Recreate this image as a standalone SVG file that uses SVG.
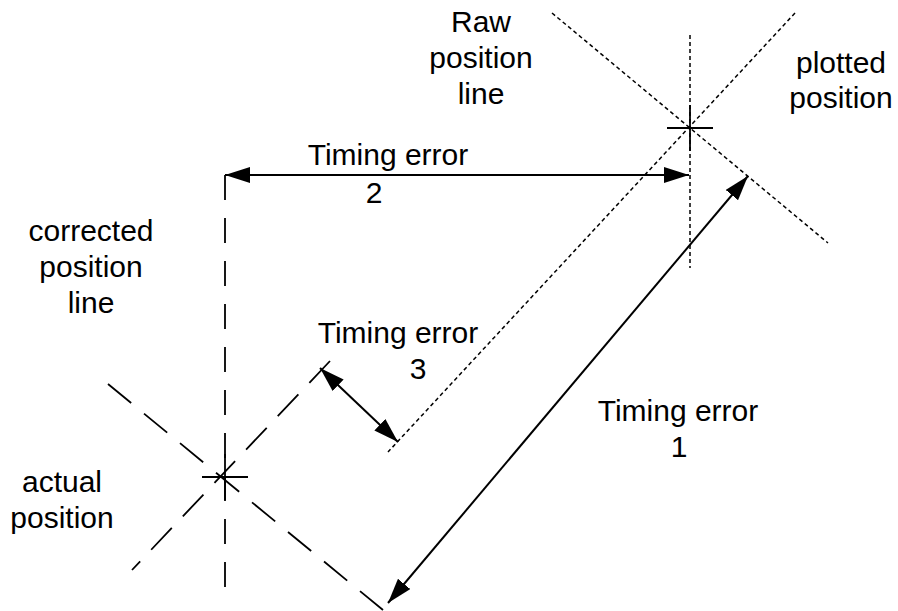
<svg xmlns="http://www.w3.org/2000/svg" width="898" height="611" viewBox="0 0 898 611">
<style>
  text { font-family: "Liberation Sans", Arial, sans-serif; font-size: 30px; fill: #000; text-anchor: middle; }
  .dot { stroke: #000; stroke-width: 1.5; stroke-dasharray: 4 3; fill: none; }
  .dash { stroke: #000; stroke-width: 1.8; stroke-dasharray: 30 16; fill: none; }
  .solid { stroke: #000; stroke-width: 1.8; fill: none; }
  .arrow { stroke: #000; stroke-width: 2; fill: none; marker-start: url(#ah); marker-end: url(#ah); }
</style>
<defs>
  <marker id="ah" viewBox="0 0 25 16" refX="25" refY="8" markerWidth="25" markerHeight="16" markerUnits="userSpaceOnUse" orient="auto-start-reverse">
    <path d="M0,0 L25,8 L0,16 z" fill="#000"/>
  </marker>
</defs>
<rect width="898" height="611" fill="#fff"/>

<g id="plotted-position">
  <line class="dot" x1="795" y1="13" x2="388" y2="452"/>
  <line class="dot" x1="552" y1="13" x2="828" y2="243"/>
  <line class="dot" x1="690" y1="35" x2="690" y2="268"/>
  <line class="solid" x1="667" y1="128" x2="713" y2="128"/>
  <line class="solid" x1="690" y1="105" x2="690" y2="151"/>
  <text x="841" y="73">plotted</text>
  <text x="841" y="108">position</text>
</g>

<g id="raw-position-line">
  <text x="481" y="32">Raw</text>
  <text x="481" y="68">position</text>
  <text x="481" y="104">line</text>
</g>

<g id="actual-position">
  <line class="dash" x1="330" y1="361" x2="132" y2="570"/>
  <line class="dash" style="stroke-dasharray:30 16.6" x1="108" y1="384" x2="383" y2="610"/>
  <line class="solid" x1="202" y1="477" x2="248" y2="477"/>
  <line class="solid" x1="225" y1="454" x2="225" y2="500"/>
  <text x="62" y="492">actual</text>
  <text x="62" y="528">position</text>
</g>

<g id="corrected-position-line">
  <line class="dash" style="stroke-dasharray:25 18" x1="225" y1="175" x2="225" y2="601"/>
  <text x="91" y="241">corrected</text>
  <text x="91" y="277">position</text>
  <text x="91" y="313">line</text>
</g>

<g id="connectors">
  <line class="arrow" x1="225" y1="175" x2="689" y2="175"/>
  <line class="arrow" x1="320" y1="368" x2="398" y2="442"/>
  <line class="arrow" x1="388" y1="603" x2="748" y2="176"/>
</g>

<g id="labels">
  <text x="388" y="165">Timing error</text>
  <text x="374" y="203">2</text>
  <text x="398" y="343">Timing error</text>
  <text x="418" y="379">3</text>
  <text x="678" y="421">Timing error</text>
  <text x="679" y="457">1</text>
</g>
</svg>
